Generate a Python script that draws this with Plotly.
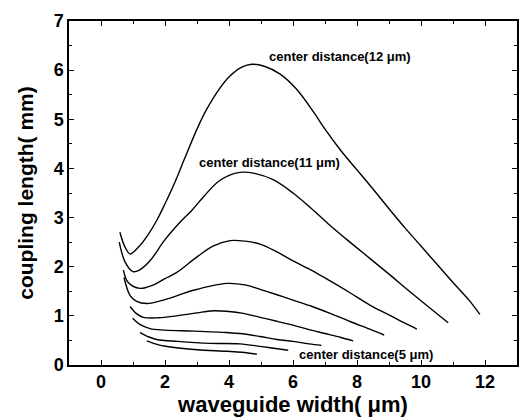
import plotly.graph_objects as go

# waveguide width (um) / coupling length (mm) for center distances 5..12 um
x12 = [0.59, 0.75, 0.91, 1.2, 1.5, 1.74, 2.0, 2.31, 2.6, 3.0, 3.3, 3.7, 4.03, 4.4, 4.71, 5.1, 5.6, 6.1, 6.64, 7.0, 7.5, 8.0, 8.5, 9.0, 9.5, 10.0, 10.5, 11.0, 11.5, 11.84]
y12 = [2.70, 2.40, 2.26, 2.42, 2.68, 2.94, 3.28, 3.72, 4.18, 4.80, 5.20, 5.62, 5.88, 6.06, 6.12, 6.08, 5.92, 5.62, 5.15, 4.80, 4.36, 3.97, 3.58, 3.18, 2.79, 2.42, 2.05, 1.68, 1.32, 1.03]

x11 = [0.57, 0.75, 1.0, 1.2, 1.53, 2.0, 2.52, 2.83, 3.2, 3.72, 4.34, 4.8, 5.38, 6.0, 6.6, 7.16, 7.78, 8.4, 9.0, 9.6, 10.2, 10.85]
y11 = [2.50, 2.10, 1.90, 1.93, 2.12, 2.55, 2.94, 3.14, 3.42, 3.76, 3.92, 3.90, 3.77, 3.50, 3.17, 2.84, 2.50, 2.17, 1.85, 1.52, 1.20, 0.86]

x10 = [0.70, 0.85, 1.22, 1.6, 2.0, 2.36, 3.0, 3.5, 4.03, 4.5, 4.97, 5.5, 6.0, 6.6, 7.16, 7.78, 8.4, 9.03, 9.5, 9.87]
y10 = [1.93, 1.68, 1.56, 1.62, 1.76, 1.88, 2.20, 2.42, 2.53, 2.52, 2.46, 2.30, 2.12, 1.92, 1.71, 1.47, 1.22, 1.01, 0.85, 0.73]

x9 = [0.72, 0.91, 1.1, 1.43, 2.0, 2.89, 3.93, 4.5, 4.97, 5.5, 6.0, 6.6, 7.16, 7.8, 8.4, 8.85]
y9 = [1.78, 1.41, 1.30, 1.25, 1.33, 1.52, 1.66, 1.63, 1.54, 1.43, 1.32, 1.19, 1.05, 0.88, 0.73, 0.61]

x8 = [0.91, 1.1, 1.32, 1.8, 2.36, 3.0, 3.41, 4.0, 4.45, 4.97, 5.5, 6.0, 6.5, 7.0, 7.5, 7.88]
y8 = [1.19, 1.05, 0.97, 0.96, 1.00, 1.06, 1.10, 1.09, 1.05, 0.97, 0.89, 0.81, 0.72, 0.64, 0.56, 0.49]

x7 = [0.99, 1.2, 1.53, 2.0, 2.89, 3.93, 4.34, 4.97, 5.5, 6.0, 6.5, 6.89]
y7 = [0.95, 0.83, 0.74, 0.71, 0.69, 0.66, 0.64, 0.58, 0.52, 0.48, 0.43, 0.40]

x6 = [1.22, 1.5, 1.74, 2.4, 3.41, 4.34, 4.97, 5.4, 5.85]
y6 = [0.66, 0.57, 0.52, 0.48, 0.44, 0.43, 0.38, 0.34, 0.30]

x5 = [1.43, 1.8, 2.36, 3.0, 3.93, 4.4, 4.87]
y5 = [0.49, 0.41, 0.35, 0.31, 0.28, 0.26, 0.22]

curves = [(x12, y12), (x11, y11), (x10, y10), (x9, y9), (x8, y8), (x7, y7), (x6, y6), (x5, y5)]

label_text = ["center distance(12 \u03bcm)", "center distance(11 \u03bcm)", "center distance(5 \u03bcm)"]
label_x = [7.47, 5.28, 8.28]
label_y = [6.27, 4.12, 0.22]

x_ticks = [0, 2, 4, 6, 8, 10, 12]
y_ticks = [0, 1, 2, 3, 4, 5, 6, 7]

fig = go.Figure()
for xs, ys in curves:
    fig.add_trace(go.Scatter(x=xs, y=ys, mode="lines",
                             line=dict(color="black", width=1.4, shape="spline", smoothing=1.0),
                             showlegend=False, hoverinfo="skip"))

for t, lx, ly in zip(label_text, label_x, label_y):
    fig.add_annotation(x=lx, y=ly, text=t, showarrow=False,
                       font=dict(family="Liberation Sans, Arial", size=13, color="black", weight="bold"))

axis_common = dict(showline=True, linecolor="black", linewidth=1.5, mirror="allticks",
                   ticks="inside", ticklen=5, tickwidth=1.2, tickcolor="black",
                   showgrid=False, zeroline=False, automargin=False,
                   tickfont=dict(family="Liberation Sans, Arial", size=18, color="black", weight="bold"))

fig.update_xaxes(range=[-1, 13], tickvals=x_ticks, ticktext=[str(v) for v in x_ticks],
                 minor=dict(ticks="inside", dtick=1, tick0=0, ticklen=3, tickcolor="black", tickwidth=1),
                 title=dict(text="waveguide width( \u03bcm)", standoff=0,
                            font=dict(family="Liberation Sans, Arial", size=22, color="black", weight="bold")),
                 **axis_common)
fig.update_yaxes(range=[0, 7], tickvals=y_ticks, ticktext=[str(v) for v in y_ticks],
                 minor=dict(ticks="inside", dtick=0.5, tick0=0, ticklen=3, tickcolor="black", tickwidth=1),
                 title=dict(text="coupling length( mm)", standoff=14,
                            font=dict(family="Liberation Sans, Arial", size=21, color="black", weight="bold")),
                 **axis_common)

fig.update_layout(width=520, height=418, margin=dict(l=69, r=3, t=21, b=53),
                  paper_bgcolor="white", plot_bgcolor="white")

fig.write_html("out.html", config={"displayModeBar": False},
               post_script="document.body.style.margin='0';document.body.style.overflow='hidden';")
